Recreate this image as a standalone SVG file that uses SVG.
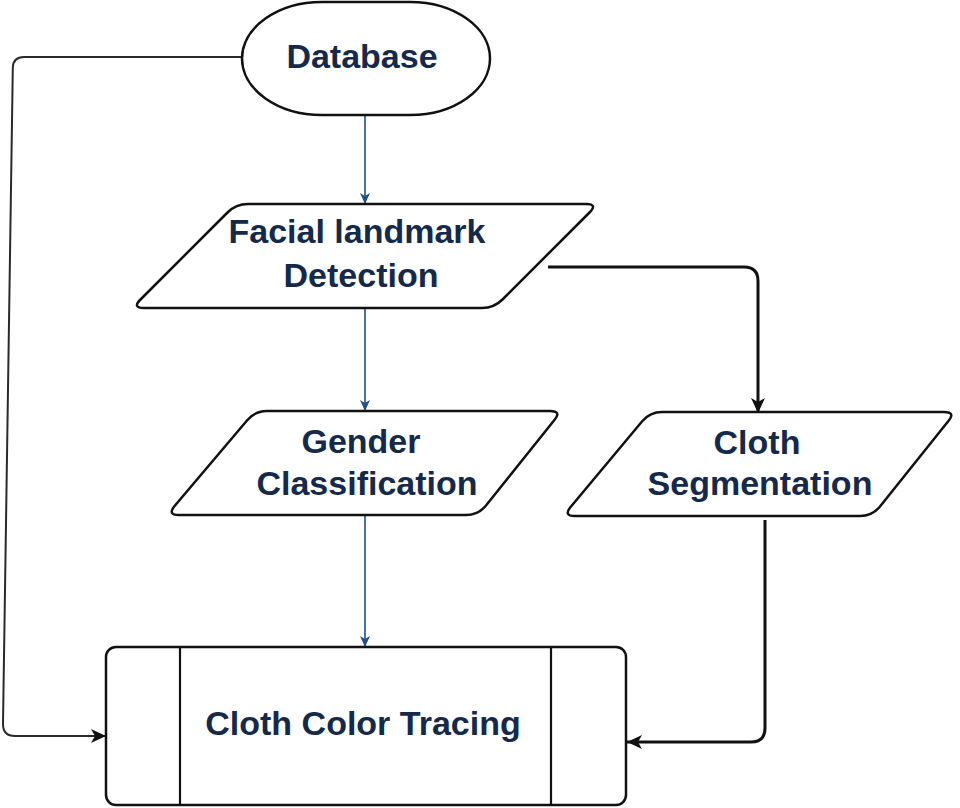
<svg xmlns="http://www.w3.org/2000/svg" width="960" height="808" viewBox="0 0 960 808">
  <defs>
    <style>
      .shape { fill: #ffffff; stroke: #111111; stroke-width: 2.5; stroke-linejoin: round; }
      .inner { fill: none; stroke: #111111; stroke-width: 2.2; }
      .label { font-family: "Liberation Sans", Arial, Helvetica, sans-serif; font-weight: bold; font-size: 34px; fill: #15294a; text-anchor: middle; }
      .blue { fill: none; stroke: #1f4f8f; stroke-width: 1.6; }
      .thin { fill: none; stroke: #2a2a2a; stroke-width: 2; }
      .thick { fill: none; stroke: #111111; stroke-width: 3; }
    </style>
    <marker id="arrowBlue" markerUnits="userSpaceOnUse" markerWidth="12" markerHeight="12" refX="11" refY="6" orient="auto">
      <path d="M0,1 L11,6 L0,11 L3,6 Z" fill="#1f4f8f"/>
    </marker>
    <marker id="arrowBlack" markerUnits="userSpaceOnUse" markerWidth="16" markerHeight="16" refX="15" refY="8" orient="auto">
      <path d="M0,1 L15,8 L0,15 L4,8 Z" fill="#111111"/>
    </marker>
  </defs>

  <rect width="960" height="808" fill="#ffffff"/>

  <g id="connectors">
    <line class="blue" x1="365" y1="115" x2="365" y2="204" marker-end="url(#arrowBlue)"/>
    <line class="blue" x1="365" y1="308" x2="365" y2="411" marker-end="url(#arrowBlue)"/>
    <line class="blue" x1="365" y1="515" x2="365" y2="647" marker-end="url(#arrowBlue)"/>
    <path class="thin" d="M242,57 L24,57 Q13,57 12.8,68 L3,724 Q3,736 15,736 L106,736" marker-end="url(#arrowBlack)"/>
    <path class="thick" d="M548,267 L744,267 Q758,267 758,281 L758,413" marker-end="url(#arrowBlack)"/>
    <path class="thick" d="M765,520 L765,728 Q765,742 751,742 L627,742" marker-end="url(#arrowBlack)"/>
  </g>

  <g id="database">
    <rect class="shape" x="242" y="2" width="248" height="113" rx="80" ry="56.5"/>
    <text class="label" x="362" y="68">Database</text>
  </g>

  <g id="facial-landmark-detection">
    <path class="shape" d="M248,204 L586,204 Q598,204 589.5,212.5 L502.5,299.5 Q494,308 482,308 L144,308 Q132,308 140.5,299.5 L227.5,212.5 Q236,204 248,204 Z"/>
    <text class="label" x="357" y="243">Facial landmark</text>
    <text class="label" x="361" y="287">Detection</text>
  </g>

  <g id="gender-classification">
    <path class="shape" d="M267,411 L550,411 Q562,411 554.2,420.2 L485.8,505.8 Q478,515 466,515 L179,515 Q167,515 174.8,505.8 L247.2,420.2 Q255,411 267,411 Z"/>
    <text class="label" x="361" y="453">Gender</text>
    <text class="label" x="367" y="495">Classification</text>
  </g>

  <g id="cloth-segmentation">
    <path class="shape" d="M662,412 L944,412 Q956,412 948.2,421.2 L879.8,506.8 Q872,516 860,516 L575,516 Q563,516 570.8,506.8 L642.2,421.2 Q650,412 662,412 Z"/>
    <text class="label" x="757" y="454">Cloth</text>
    <text class="label" x="760" y="495">Segmentation</text>
  </g>

  <g id="cloth-color-tracing">
    <rect class="shape" x="106" y="647" width="520" height="158" rx="10" ry="10"/>
    <line class="inner" x1="180" y1="647" x2="180" y2="805"/>
    <line class="inner" x1="551" y1="647" x2="551" y2="805"/>
    <text class="label" x="363" y="735">Cloth Color Tracing</text>
  </g>
</svg>
